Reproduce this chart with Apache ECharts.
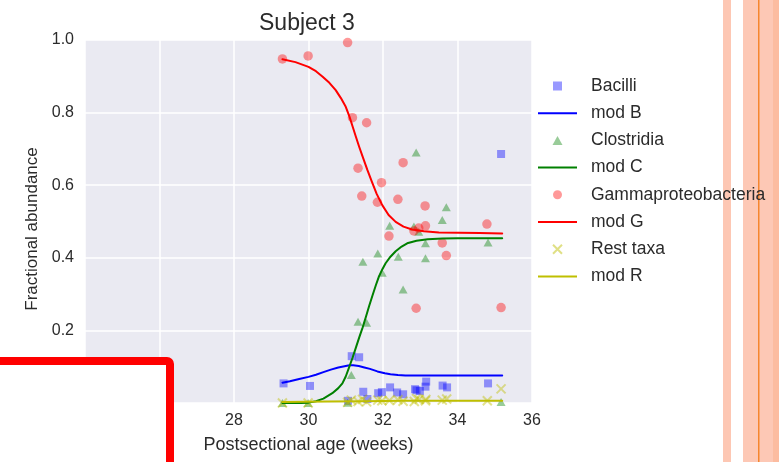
<!DOCTYPE html>
<html><head><meta charset="utf-8">
<script src="https://cdn.jsdelivr.net/npm/echarts@6/dist/echarts.min.js"></script>
<style>html,body{margin:0;padding:0;background:#fff}#c{width:779px;height:462px}</style>
</head><body><div id="c"></div>
<script>
// ---- data ----
const xTicks = [24, 26, 28, 30, 32, 34, 36];
const yTicks = [0.0, 0.2, 0.4, 0.6, 0.8, 1.0];

const bacilliX = [29.33, 30.04, 31.06, 31.16, 31.36, 31.47, 31.58, 31.87, 31.97, 32.19, 32.38, 32.54, 32.86, 32.90, 32.99, 33.14, 33.16, 33.60, 33.72, 34.82, 35.17];
const bacilliY = [0.054, 0.047, 0.006, 0.129, 0.126, 0.031, 0.011, 0.027, 0.030, 0.043, 0.029, 0.024, 0.038, 0.035, 0.033, 0.045, 0.059, 0.048, 0.043, 0.054, 0.686];

const clostX = [29.30, 29.99, 31.05, 31.15, 31.33, 31.56, 31.46, 31.86, 31.98, 32.18, 32.41, 32.54, 32.83, 32.96, 32.89, 33.14, 33.14, 33.59, 33.70, 34.82, 35.17];
const clostY = [0.0, 0.0, 0.001, 0.077, 0.224, 0.221, 0.389, 0.412, 0.359, 0.488, 0.403, 0.313, 0.486, 0.472, 0.690, 0.440, 0.399, 0.504, 0.539, 0.442, 0.003];

const gammaX = [29.30, 29.99, 31.05, 31.18, 31.56, 31.33, 32.54, 31.96, 31.43, 31.85, 32.40, 33.13, 32.16, 32.83, 32.96, 33.14, 33.59, 33.70, 32.89, 34.79, 35.17];
const gammaY = [0.948, 0.956, 0.993, 0.786, 0.772, 0.647, 0.662, 0.607, 0.570, 0.553, 0.561, 0.543, 0.460, 0.474, 0.482, 0.488, 0.441, 0.406, 0.261, 0.493, 0.263];

const restX = [29.30, 29.99, 31.05, 31.15, 31.33, 31.45, 31.56, 31.86, 31.97, 32.17, 32.40, 32.54, 32.84, 32.90, 32.97, 33.14, 33.15, 33.59, 33.71, 34.80, 35.17];
const restY = [0.0, 0.0, 0.002, 0.008, 0.004, 0.010, 0.003, 0.008, 0.006, 0.007, 0.009, 0.005, 0.004, 0.012, 0.010, 0.006, 0.010, 0.008, 0.011, 0.006, 0.039];

// model curves, points
const modBX = [29.3, 29.5, 29.75, 30.0, 30.2, 30.4, 30.6, 30.8, 31.0, 31.1, 31.2, 31.35, 31.5, 31.65, 31.85, 32.05, 32.2, 32.4, 32.6, 33.2, 34.2, 35.2];
const modBY = [0.056, 0.060, 0.066, 0.072, 0.078, 0.085, 0.092, 0.098, 0.102, 0.104, 0.104, 0.102, 0.098, 0.094, 0.087, 0.082, 0.079, 0.077, 0.076, 0.076, 0.076, 0.076];

const modCX = [29.3, 29.8, 30.0, 30.2, 30.4, 30.64, 30.8, 30.91, 31.0, 31.09, 31.18, 31.27, 31.36, 31.45, 31.54, 31.63, 31.72, 31.81, 31.89, 31.98, 32.07, 32.2, 32.34, 32.5, 32.65, 32.9, 33.2, 33.6, 34.0, 35.2];
const modCY = [0.0, 0.0, 0.001, 0.005, 0.012, 0.027, 0.041, 0.054, 0.073, 0.098, 0.124, 0.152, 0.180, 0.207, 0.237, 0.268, 0.297, 0.325, 0.348, 0.368, 0.385, 0.403, 0.418, 0.431, 0.440, 0.447, 0.451, 0.453, 0.454, 0.454];

const modGX = [29.3, 29.65, 30.0, 30.2, 30.38, 30.56, 30.73, 30.87, 31.0, 31.1, 31.18, 31.27, 31.36, 31.47, 31.58, 31.7, 31.83, 31.98, 32.15, 32.34, 32.55, 32.78, 33.1, 33.5, 34.03, 34.6, 35.2];
const modGY = [0.947, 0.939, 0.926, 0.914, 0.899, 0.882, 0.862, 0.840, 0.816, 0.789, 0.763, 0.734, 0.706, 0.674, 0.642, 0.610, 0.576, 0.545, 0.518, 0.499, 0.486, 0.478, 0.473, 0.470, 0.469, 0.468, 0.467];

const modRX = [29.3, 30.5, 31.5, 32.5, 33.5, 35.2];
const modRY = [0.003, 0.004, 0.005, 0.006, 0.006, 0.006];

const legendNames = ['Bacilli', 'mod B', 'Clostridia', 'mod C', 'Gammaproteobacteria', 'mod G', 'Rest taxa', 'mod R'];

// ---- styling ----
const FONT = 'Liberation Sans, Arial, Helvetica, sans-serif';
const TXT = '#2b2b2b';
const SQ = 'path://M0,0L10,0L10,10L0,10Z';
const TRI = 'path://M5,0L10,9L0,9Z';
const XS = 'path://M0,0L10,10M10,0L0,10';
const LN = 'path://M0,0L39,0L39,2L0,2Z';

const pts = (xs, ys) => xs.map((v, i) => [v, ys[i]]);

function scatter(name, xs, ys, symbol, size, color, extra) {
  return Object.assign({
    name, type: 'scatter', data: pts(xs, ys), symbol, symbolSize: size,
    itemStyle: { color: color, borderWidth: 0 }, emphasis: { disabled: true }, clip: false
  }, extra || {});
}
function line(name, xs, ys, color) {
  return {
    name, type: 'line', data: pts(xs, ys), symbol: 'none', showSymbol: false,
    smooth: false, color: color,
    lineStyle: { color: color, width: 2, join: 'round', cap: 'round' }, itemStyle: { color: color },
    emphasis: { disabled: true }, silent: true
  };
}

const series = [
  scatter('Bacilli', bacilliX, bacilliY, SQ, 8, 'rgba(0,0,255,0.5)'),
  line('mod B', modBX, modBY, '#0000ff'),
  scatter('Clostridia', clostX, clostY, TRI, [9, 8], 'rgba(0,128,0,0.5)'),
  line('mod C', modCX, modCY, '#008000'),
  scatter('Gammaproteobacteria', gammaX, gammaY, 'circle', 9.5, 'rgba(255,0,0,0.5)'),
  line('mod G', modGX, modGY, '#ff0000'),
  scatter('Rest taxa', restX, restY, XS, 9, 'rgba(191,191,0,0.5)',
    { itemStyle: { color: 'rgba(191,191,0,0.5)', borderColor: 'rgba(191,191,0,0.55)', borderWidth: 2 } }),
  line('mod R', modRX, modRY, '#bfbf00')
];

const icons = [SQ, LN, TRI, LN, 'circle', LN, XS, LN];
const legendData = legendNames.map((n, i) => {
  const it = { name: n, icon: icons[i], itemStyle: { borderWidth: 0 } };
  if (icons[i] === XS) it.itemStyle = { borderColor: 'rgba(191,191,0,0.6)', borderWidth: 2 };
  return it;
});

const option = {
  animation: false,
  backgroundColor: '#ffffff',
  textStyle: { fontFamily: FONT },
  title: {
    text: 'Subject 3', left: 259, top: 12, padding: 0,
    textStyle: { fontFamily: FONT, fontSize: 23, fontWeight: 'normal', color: TXT }
  },
  grid: {
    left: 85, right: 247, top: 40, bottom: 59, show: true,
    backgroundColor: '#EAEAF2', borderWidth: 0
  },
  xAxis: {
    type: 'value', min: xTicks[0], max: xTicks[xTicks.length - 1], interval: 2,
    name: 'Postsectional age (weeks)', nameLocation: 'middle', nameGap: 33,
    nameTextStyle: { fontFamily: FONT, fontSize: 18, color: TXT },
    axisLine: { show: false }, axisTick: { show: false },
    axisLabel: { fontFamily: FONT, fontSize: 16, color: TXT, margin: 10 },
    splitLine: { show: true, lineStyle: { color: '#ffffff', width: 1.5 } }
  },
  yAxis: {
    type: 'value', min: yTicks[0], max: yTicks[yTicks.length - 1], interval: 0.2,
    name: 'Fractional abundance', nameLocation: 'middle', nameGap: 44,
    nameTextStyle: { fontFamily: FONT, fontSize: 17, color: TXT, padding: [0, 15, 0, 0] },
    axisLine: { show: false }, axisTick: { show: false },
    axisLabel: { fontFamily: FONT, fontSize: 16, color: TXT, margin: 11, formatter: v => v.toFixed(1) },
    splitLine: { show: true, lineStyle: { color: '#ffffff', width: 1.5 } }
  },
  legend: {
    orient: 'vertical', left: 538, top: 77, padding: 0, itemWidth: 39, itemHeight: 9, itemGap: 9.2,
    selectedMode: false, data: legendData,
    textStyle: { fontFamily: FONT, fontSize: 17.5, color: TXT, lineHeight: 18, padding: [0, 0, 0, 9] }
  },
  series: series,
  graphic: [
    { type: 'rect', z: 1, silent: true, shape: { x: 723, y: 0, width: 8, height: 462 }, style: { fill: '#FDC7B3' } },
    { type: 'rect', z: 1, silent: true, shape: { x: 743, y: 0, width: 30, height: 462 }, style: { fill: '#FDC8B5' } },
    { type: 'rect', z: 1, silent: true, shape: { x: 773, y: 0, width: 6, height: 462 }, style: { fill: '#FCBCA0' } },
    { type: 'rect', z: 1, silent: true, shape: { x: 758, y: 0, width: 1.5, height: 462 }, style: { fill: '#F5862F' } },
    { type: 'rect', z: 100, silent: true, shape: { x: -20, y: 361, width: 190, height: 130, r: 3 },
      style: { fill: '#ffffff', stroke: '#ff0000', lineWidth: 8 } }
  ]
};

const chart = echarts.init(document.getElementById('c'), null, { renderer: 'canvas' });
chart.setOption(option);
</script>
</body></html>
